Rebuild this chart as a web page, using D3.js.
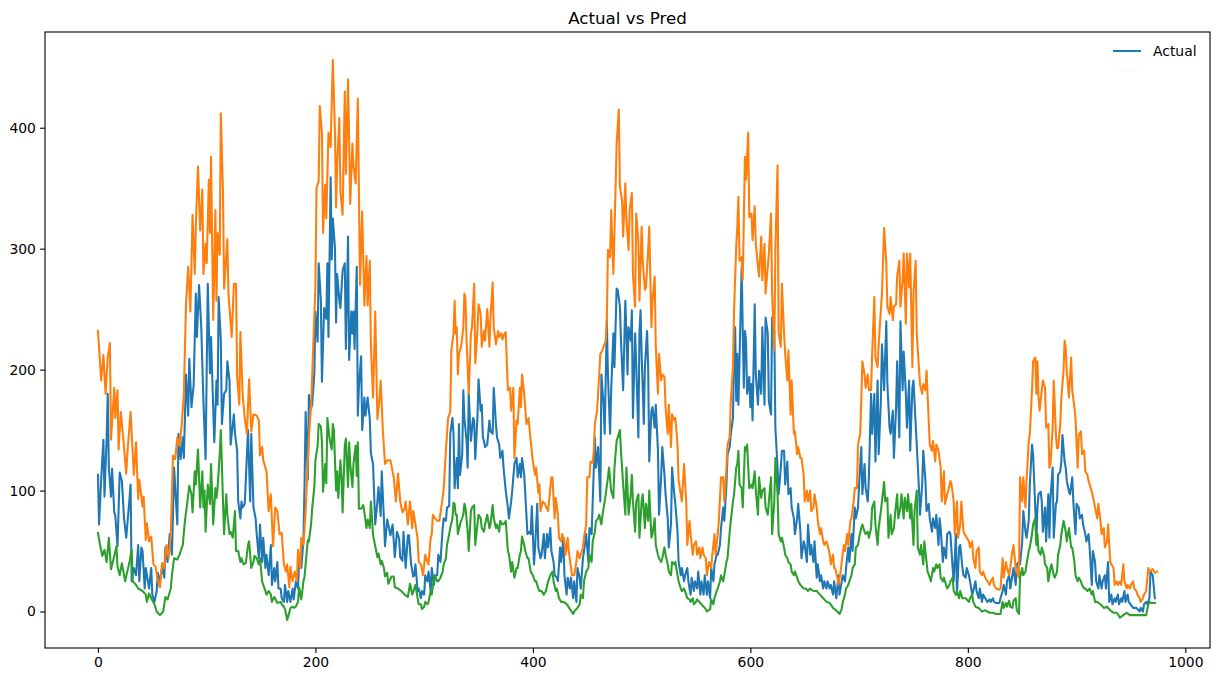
<!DOCTYPE html>
<html>
<head>
<meta charset="utf-8">
<script src="https://cdn.jsdelivr.net/npm/d3@7/dist/d3.min.js"></script>
<style>
  html, body { margin: 0; padding: 0; background: #ffffff; }
  svg { display: block; font-family: "DejaVu Sans", sans-serif; }
</style>
</head>
<body>
<svg id="chart" width="1218" height="682"></svg>
<script>
// ---------- DATA ----------
const chartTitle = "Actual vs Pred";
const xTicks = [0, 200, 400, 600, 800, 1000];
const yTicks = [0, 100, 200, 300, 400];
const seriesNames = ["Actual", "Pred (upper)", "Pred (lower)"];

// Actual (blue) : [index, value]
const actualPts = [[0,113],[1,72],[3,110],[5,142],[6,95],[8,144],[9,180],[10,119],[12,95],[13,118],[15,82],[16,79],[18,54],[20,115],[22,108],[24,77],[26,61],[29,93],[30,105],[31,25],[33,36],[35,30],[37,55],[38,25],[40,53],[41,50],[43,19],[44,36],[47,19],[49,36],[50,14],[52,8],[54,17],[55,32],[57,25],[59,36],[61,28],[62,53],[64,41],[66,64],[68,47],[69,80],[70,119],[73,72],[74,147],[76,126],[78,144],[79,127],[81,196],[83,162],[84,209],[86,169],[88,187],[90,263],[91,227],[93,270],[95,235],[97,174],[99,126],[101,271],[103,197],[104,227],[105,197],[107,140],[109,191],[110,171],[111,260],[113,224],[114,155],[116,180],[118,183],[119,207],[121,191],[122,138],[125,163],[126,147],[128,133],[129,91],[131,77],[132,91],[133,86],[135,89],[138,150],[140,91],[141,147],[143,86],[145,77],[146,64],[148,44],[149,72],[151,41],[152,61],[154,36],[155,47],[157,30],[159,55],[160,22],[162,36],[163,25],[165,41],[166,19],[168,19],[169,11],[171,8],[172,22],[174,8],[175,17],[177,8],[179,19],[180,10],[182,25],[184,19],[185,41],[187,36],[188,47],[189,61],[190,105],[191,165],[193,109],[194,179],[196,168],[197,171],[199,197],[200,248],[202,223],[203,288],[205,257],[206,190],[208,251],[210,242],[211,288],[212,227],[214,359],[215,291],[216,325],[218,300],[219,239],[220,279],[222,257],[223,251],[225,282],[227,288],[228,217],[230,310],[231,208],[233,248],[234,230],[235,248],[236,217],[238,285],[239,162],[240,186],[242,211],[243,150],[245,177],[246,162],[248,177],[250,159],[251,131],[253,122],[255,72],[257,91],[258,103],[260,79],[261,116],[263,76],[264,54],[266,76],[267,72],[269,63],[271,72],[273,45],[275,66],[277,60],[278,45],[280,42],[281,66],[283,36],[285,63],[286,63],[288,39],[290,29],[291,30],[292,39],[294,17],[295,19],[297,11],[298,17],[300,14],[301,30],[303,25],[304,33],[306,17],[307,36],[309,22],[310,30],[312,30],[313,47],[315,41],[317,69],[318,77],[320,75],[321,86],[323,87],[324,147],[326,160],[327,147],[328,102],[330,127],[331,102],[332,155],[333,113],[335,130],[336,183],[337,160],[339,141],[340,119],[341,181],[342,160],[343,141],[345,160],[346,158],[347,126],[349,160],[350,192],[352,166],[353,171],[354,144],[355,141],[356,136],[358,138],[360,158],[361,149],[363,147],[364,185],[366,155],[367,144],[369,138],[370,127],[372,133],[373,119],[375,100],[377,86],[378,77],[380,91],[381,100],[383,122],[385,127],[386,111],[388,122],[389,111],[390,127],[392,113],[393,97],[395,64],[397,66],[398,64],[399,87],[401,39],[402,53],[404,89],[405,53],[407,44],[408,47],[410,64],[411,44],[413,64],[414,53],[416,69],[417,50],[419,41],[420,30],[422,28],[423,25],[425,53],[426,41],[428,61],[429,30],[431,14],[432,28],[434,19],[435,28],[437,11],[438,25],[440,8],[441,36],[443,28],[444,19],[446,44],[447,50],[449,64],[451,41],[452,69],[454,64],[455,91],[457,144],[458,119],[460,136],[462,91],[463,196],[465,171],[466,147],[468,241],[469,196],[471,147],[472,183],[474,230],[475,202],[477,267],[478,266],[480,252],[481,224],[483,183],[485,257],[486,230],[487,196],[488,235],[490,224],[491,249],[492,160],[494,230],[495,205],[497,144],[498,230],[499,249],[500,213],[502,155],[503,202],[505,232],[506,202],[507,124],[509,166],[510,169],[512,152],[513,171],[515,133],[516,80],[518,113],[519,136],[521,113],[522,97],[524,77],[525,53],[527,72],[528,119],[530,97],[531,89],[533,66],[534,41],[536,30],[537,36],[539,25],[540,30],[542,36],[543,25],[545,14],[546,28],[548,17],[549,25],[551,19],[552,33],[554,14],[555,25],[557,14],[558,30],[560,14],[561,25],[563,11],[564,36],[566,25],[567,39],[569,47],[570,47],[572,55],[573,69],[575,86],[576,75],[578,105],[579,130],[581,136],[582,147],[584,160],[585,213],[586,235],[587,174],[588,213],[589,171],[590,207],[592,285],[593,232],[594,185],[595,232],[596,224],[597,180],[599,194],[600,169],[601,188],[602,158],[604,254],[605,196],[607,171],[608,199],[610,180],[611,235],[613,171],[614,243],[616,230],[617,174],[619,163],[620,243],[622,232],[623,152],[625,119],[626,97],[628,119],[629,133],[631,133],[632,105],[634,124],[635,97],[637,102],[638,86],[640,77],[641,64],[643,77],[644,89],[646,66],[647,44],[649,58],[650,55],[652,41],[653,72],[655,47],[656,55],[658,41],[659,58],[661,28],[662,39],[664,25],[665,30],[667,19],[668,25],[670,19],[671,25],[673,19],[674,22],[676,14],[677,25],[679,11],[681,30],[682,14],[684,25],[685,30],[687,25],[688,36],[690,53],[691,41],[693,64],[694,50],[696,86],[697,77],[699,86],[700,105],[702,136],[703,97],[705,122],[706,102],[708,91],[709,111],[711,180],[712,147],[714,180],[715,124],[717,191],[718,130],[720,174],[721,221],[723,183],[725,240],[726,188],[728,152],[729,147],[731,166],[732,127],[734,169],[735,207],[737,144],[738,240],[740,183],[741,215],[743,180],[744,152],[746,191],[747,133],[749,185],[750,191],[752,155],[753,138],[755,102],[756,80],[758,105],[759,133],[761,108],[762,83],[764,89],[765,77],[767,66],[768,77],[770,69],[771,80],[773,55],[774,77],[775,69],[777,41],[778,53],[780,44],[781,64],[783,66],[784,64],[786,36],[787,25],[789,64],[790,14],[792,53],[793,55],[795,36],[796,30],[798,28],[799,36],[801,30],[802,25],[804,14],[805,17],[807,25],[808,17],[810,11],[811,19],[813,8],[814,14],[816,11],[818,8],[820,10],[821,8],[823,11],[824,8],[826,7],[829,7],[830,11],[832,17],[833,22],[835,14],[836,25],[838,30],[839,19],[841,30],[842,36],[844,22],[845,39],[847,41],[848,39],[850,58],[851,83],[853,66],[854,61],[856,75],[857,105],[859,138],[860,130],[862,86],[863,58],[864,86],[865,97],[867,99],[868,91],[869,66],[871,86],[872,58],[874,97],[875,61],[876,94],[878,119],[879,61],[881,89],[882,91],[883,113],[885,116],[886,124],[887,146],[889,124],[890,119],[891,108],[893,99],[894,97],[896,111],[897,91],[899,64],[900,89],[902,86],[903,77],[905,80],[906,72],[908,64],[909,58],[911,64],[912,53],[914,22],[915,50],[917,41],[918,25],[920,19],[921,30],[923,19],[924,25],[926,30],[927,19],[929,41],[930,8],[932,14],[933,6],[935,11],[936,8],[938,14],[939,6],[941,11],[942,8],[944,17],[945,8],[947,14],[948,8],[952,3],[955,3],[958,0],[959,3],[961,0],[962,6],[964,8],[965,6],[967,11],[968,33],[970,30],[972,11]];

// Upper prediction (orange)
const predUpperPts = [[0,232],[3,191],[5,212],[7,180],[9,210],[11,222],[12,142],[15,185],[16,160],[18,183],[19,134],[21,165],[24,136],[26,114],[27,130],[30,165],[33,113],[35,140],[37,93],[38,109],[41,87],[42,95],[44,59],[45,73],[47,58],[49,62],[51,39],[53,37],[55,26],[57,20],[59,40],[61,36],[63,55],[65,44],[67,64],[69,129],[71,126],[73,144],[75,137],[77,154],[79,180],[81,255],[83,285],[85,248],[87,328],[89,279],[90,318],[92,368],[94,315],[96,349],[97,279],[99,304],[100,288],[102,357],[103,313],[104,376],[106,241],[108,332],[109,257],[110,313],[112,295],[113,412],[115,346],[116,267],[119,308],[120,263],[123,227],[125,271],[127,271],[128,194],[130,171],[131,231],[133,180],[135,160],[137,147],[139,192],[141,149],[143,163],[146,162],[148,158],[149,129],[151,136],[152,125],[155,116],[157,83],[159,97],[161,54],[163,86],[165,83],[167,64],[169,65],[171,39],[173,33],[174,39],[176,20],[177,37],[179,25],[181,33],[183,25],[184,51],[186,36],[187,61],[189,55],[191,83],[194,144],[196,170],[198,220],[200,270],[201,350],[203,356],[204,418],[206,396],[207,313],[209,353],[210,325],[212,396],[214,384],[216,456],[218,396],[219,334],[220,371],[222,408],[223,347],[225,328],[227,430],[228,362],[230,440],[232,337],[234,387],[235,368],[237,354],[239,424],[241,270],[243,331],[245,253],[247,294],[248,253],[250,290],[251,220],[253,177],[255,248],[257,159],[259,177],[260,191],[262,150],[264,122],[266,125],[269,125],[272,111],[274,91],[276,114],[278,91],[280,82],[282,85],[283,91],[285,72],[287,91],[289,69],[290,83],[292,72],[294,60],[295,41],[297,39],[299,30],[301,47],[303,41],[304,39],[306,61],[307,64],[308,80],[310,77],[312,75],[314,75],[317,94],[318,102],[320,133],[322,160],[324,165],[325,216],[327,230],[328,257],[329,230],[330,235],[331,196],[332,213],[334,219],[336,235],[337,263],[338,259],[339,224],[341,180],[343,230],[344,235],[346,271],[347,205],[349,232],[350,254],[352,246],[353,219],[355,232],[356,224],[358,250],[360,219],[361,243],[363,272],[364,235],[366,221],[368,232],[369,227],[371,230],[372,225],[374,230],[375,231],[377,183],[379,185],[380,166],[382,185],[383,127],[385,158],[386,155],[388,185],[389,169],[390,196],[392,180],[394,155],[396,160],[398,141],[400,124],[402,113],[403,119],[405,98],[406,105],[407,83],[409,91],[411,89],[412,87],[414,83],[416,102],[417,111],[418,111],[420,77],[421,94],[423,80],[424,61],[426,58],[427,64],[429,58],[430,47],[432,61],[433,50],[435,36],[436,30],[438,30],[440,41],[441,50],[443,44],[444,47],[446,53],[447,61],[449,72],[450,111],[452,111],[453,124],[455,123],[456,133],[457,155],[459,166],[461,196],[462,213],[464,216],[465,219],[467,224],[468,241],[469,299],[471,293],[472,332],[474,279],[475,313],[477,387],[479,415],[480,351],[482,340],[483,310],[485,354],[486,324],[488,299],[489,332],[491,346],[492,279],[494,252],[495,329],[497,307],[498,257],[500,318],[501,290],[503,266],[504,268],[506,299],[507,318],[509,235],[510,257],[512,277],[513,219],[515,180],[516,213],[518,191],[519,196],[521,194],[522,169],[524,147],[525,171],[527,136],[528,163],[530,158],[531,160],[533,138],[534,108],[536,97],[537,91],[539,122],[541,91],[542,55],[544,75],[545,64],[547,47],[548,55],[550,58],[551,47],[553,53],[554,44],[556,53],[557,47],[559,44],[560,30],[562,41],[564,36],[565,47],[567,64],[568,47],[570,64],[571,75],[573,111],[575,111],[576,91],[578,119],[579,138],[581,144],[582,174],[584,202],[585,249],[587,302],[588,318],[589,343],[590,290],[592,293],[593,274],[595,376],[596,357],[598,396],[599,326],[601,329],[602,307],[604,335],[605,304],[607,285],[608,277],[610,310],[611,274],[613,304],[614,263],[616,285],[617,296],[619,329],[620,263],[622,216],[623,299],[625,369],[626,230],[628,219],[629,271],[631,230],[632,213],[634,191],[635,216],[637,163],[638,191],[640,147],[641,149],[643,130],[644,136],[646,127],[647,127],[649,113],[650,91],[652,100],[653,91],[655,100],[656,83],[658,86],[659,97],[661,86],[662,75],[664,64],[665,69],[667,58],[668,55],[670,58],[671,55],[673,47],[674,39],[676,47],[677,36],[678,36],[680,28],[681,22],[683,33],[684,41],[686,55],[687,50],[689,64],[690,55],[692,75],[693,77],[695,91],[696,102],[698,102],[699,138],[701,147],[702,174],[703,207],[705,196],[706,185],[708,196],[709,183],[711,183],[712,213],[714,260],[715,210],[717,202],[718,221],[720,249],[721,263],[723,317],[725,288],[726,252],[728,246],[729,260],[731,241],[732,252],[734,254],[735,277],[737,290],[738,252],[740,274],[741,296],[743,238],[744,296],[746,268],[747,296],[749,202],[750,263],[752,290],[753,230],[755,202],[756,188],[758,180],[759,188],[761,183],[762,199],[764,158],[765,138],[767,133],[768,141],[770,124],[771,138],[773,133],[775,119],[776,91],[778,116],[779,89],[781,97],[782,100],[784,108],[785,105],[787,91],[788,64],[790,91],[791,61],[793,72],[794,91],[796,66],[797,64],[799,61],[801,58],[802,53],[804,58],[805,44],[807,36],[808,50],[810,53],[811,33],[813,30],[814,33],[816,28],[818,25],[820,22],[821,25],[823,28],[824,22],[826,19],[829,18],[830,19],[832,44],[833,28],[835,41],[836,36],[838,30],[839,36],[841,50],[842,55],[844,36],[845,33],[847,28],[848,111],[850,91],[851,111],[853,86],[854,108],[856,141],[857,147],[859,183],[860,207],[862,210],[863,180],[864,207],[865,177],[866,166],[868,183],[869,191],[871,185],[872,152],[874,155],[875,119],[876,122],[878,152],[879,191],[881,146],[882,135],[883,135],[885,155],[886,177],[888,199],[889,224],[890,218],[891,199],[893,177],[895,210],[896,183],[898,169],[899,160],[901,119],[902,146],[904,149],[905,130],[907,133],[908,116],[910,113],[911,108],[913,102],[914,99],[916,91],[917,86],[919,77],[920,89],[922,75],[923,64],[925,69],[926,53],[928,58],[929,72],[931,41],[932,39],[934,36],[935,22],[937,25],[938,22],[940,25],[941,22],[943,39],[944,25],[946,19],[947,22],[949,19],[950,22],[952,25],[953,19],[955,17],[956,14],[958,11],[959,8],[961,11],[962,14],[964,17],[966,36],[967,33],[970,35],[972,32],[974,33]];

// Lower prediction (green)
const predLowerPts = [[0,65],[2,55],[4,46],[6,51],[8,41],[10,61],[12,35],[15,46],[17,54],[18,37],[20,30],[22,40],[25,25],[27,33],[29,41],[31,51],[32,25],[35,22],[37,19],[39,18],[41,17],[44,14],[45,8],[47,15],[49,11],[52,6],[54,0],[57,-3],[60,0],[62,12],[64,10],[67,19],[68,30],[70,44],[73,43],[75,47],[78,55],[80,75],[82,89],[84,104],[86,97],[87,82],[89,116],[90,105],[92,134],[94,86],[96,116],[97,86],[98,100],[99,66],[101,105],[103,89],[104,122],[106,72],[108,102],[109,94],[110,102],[112,130],[113,150],[115,91],[116,64],[118,97],[119,80],[121,64],[122,66],[124,61],[126,83],[127,50],[129,50],[131,41],[132,44],[133,41],[134,39],[136,40],[138,55],[139,58],[141,36],[143,41],[144,46],[146,44],[148,39],[149,44],[151,25],[152,22],[154,17],[155,14],[157,17],[159,14],[160,8],[162,12],[163,11],[165,7],[168,8],[169,6],[171,4],[172,2],[174,-7],[175,-4],[177,3],[179,4],[180,3],[182,4],[184,8],[185,20],[187,10],[189,25],[190,29],[193,59],[194,58],[196,72],[197,85],[199,103],[200,125],[202,137],[203,155],[205,153],[206,140],[207,99],[209,122],[210,106],[211,160],[213,143],[215,134],[216,155],[217,150],[219,100],[220,116],[221,94],[223,125],[224,112],[225,82],[227,137],[228,143],[230,103],[231,140],[232,122],[234,103],[235,122],[237,137],[238,112],[239,140],[240,85],[242,85],[244,88],[245,82],[247,69],[248,76],[250,69],[251,91],[253,63],[255,54],[257,45],[258,48],[260,39],[261,42],[263,36],[264,29],[266,32],[267,23],[270,29],[272,29],[273,20],[276,19],[279,17],[282,14],[285,12],[287,23],[289,14],[291,19],[292,22],[294,11],[295,6],[297,6],[298,2],[300,4],[301,8],[303,6],[304,8],[306,17],[307,14],[309,28],[310,30],[312,25],[313,25],[315,28],[317,33],[318,39],[320,44],[321,55],[323,64],[324,69],[326,77],[327,90],[328,89],[329,80],[330,80],[331,64],[333,72],[334,75],[336,80],[337,89],[338,86],[340,66],[341,50],[343,83],[344,86],[346,88],[347,55],[349,72],[350,80],[352,77],[353,69],[355,66],[356,72],[358,80],[360,69],[361,72],[363,88],[364,77],[366,69],[367,72],[369,66],[370,75],[372,72],[374,73],[375,75],[377,50],[378,47],[380,33],[381,41],[383,28],[385,36],[386,36],[388,47],[389,50],[390,62],[392,55],[393,50],[395,44],[396,44],[398,33],[400,30],[402,25],[403,25],[405,19],[406,17],[408,17],[410,14],[412,17],[414,25],[416,30],[418,33],[419,25],[421,17],[422,19],[424,11],[426,8],[428,8],[430,7],[432,5],[434,2],[437,-2],[438,0],[440,2],[441,3],[443,6],[444,14],[446,11],[447,25],[449,33],[451,36],[452,47],[454,41],[455,58],[457,66],[458,75],[460,77],[461,80],[463,72],[464,80],[466,91],[467,97],[469,111],[470,119],[472,100],[474,94],[475,119],[477,141],[478,144],[480,150],[481,133],[483,105],[485,80],[486,119],[487,102],[488,80],[490,97],[491,113],[492,91],[494,66],[495,91],[497,97],[498,61],[500,91],[501,97],[503,69],[504,89],[506,75],[507,100],[509,61],[510,64],[512,77],[513,55],[515,47],[516,44],[518,41],[519,44],[521,53],[522,47],[524,39],[525,33],[527,30],[528,41],[530,39],[531,41],[533,30],[534,25],[536,19],[537,17],[539,19],[541,14],[542,11],[544,10],[545,8],[547,11],[548,6],[550,8],[551,10],[554,7],[557,4],[559,2],[560,0],[563,2],[564,10],[566,6],[567,11],[569,17],[570,19],[572,25],[573,30],[575,25],[576,30],[578,41],[579,44],[581,66],[582,75],[584,91],[585,97],[587,119],[588,122],[589,133],[590,105],[592,102],[593,86],[595,136],[596,133],[597,138],[599,102],[601,105],[602,102],[604,116],[605,100],[607,80],[608,111],[610,94],[611,100],[613,102],[614,86],[616,80],[617,91],[619,111],[620,64],[622,91],[623,127],[625,97],[626,64],[628,58],[629,61],[631,53],[632,47],[634,44],[635,41],[637,39],[638,33],[640,30],[641,33],[643,28],[644,25],[646,22],[649,19],[651,19],[653,17],[655,19],[658,17],[661,17],[664,14],[667,11],[670,8],[673,7],[676,3],[680,0],[682,-2],[684,2],[685,8],[687,14],[688,19],[690,22],[691,25],[693,30],[694,36],[696,39],[697,53],[699,55],[700,61],[702,69],[703,72],[705,66],[706,64],[708,66],[709,61],[711,69],[712,86],[714,91],[715,72],[717,55],[718,69],[720,83],[721,91],[723,107],[724,91],[726,94],[727,61],[729,80],[730,64],[732,69],[733,80],[735,97],[736,77],[738,86],[739,97],[741,77],[742,94],[744,83],[745,97],[747,77],[748,89],[750,55],[751,83],[753,100],[754,53],[756,47],[757,55],[759,39],[760,58],[762,41],[763,33],[765,28],[766,25],[768,36],[769,33],[771,39],[772,36],[774,39],[775,28],[777,25],[778,28],[780,22],[781,19],[783,22],[784,25],[786,28],[787,17],[789,14],[790,17],[792,11],[793,17],[795,11],[798,11],[801,8],[802,11],[804,14],[805,8],[807,4],[810,3],[813,0],[816,1],[820,-1],[823,-1],[826,-2],[830,-2],[832,8],[833,3],[835,7],[836,4],[838,9],[839,4],[841,3],[842,9],[844,11],[845,1],[847,-2],[848,28],[850,36],[851,30],[853,33],[854,39],[856,50],[857,53],[859,64],[860,72],[862,77],[863,55],[864,64],[865,50],[867,47],[868,53],[870,47],[871,39],[873,36],[874,25],[876,36],[877,39],[879,30],[880,28],[882,33],[883,47],[885,55],[886,64],[888,75],[890,66],[891,58],[893,69],[895,53],[896,53],[898,41],[899,30],[901,25],[902,28],[904,25],[905,22],[907,19],[908,19],[910,17],[912,19],[914,14],[915,17],[917,8],[919,8],[922,6],[925,3],[928,4],[931,1],[934,-1],[937,-1],[940,-5],[943,-3],[946,-1],[949,-3],[952,-3],[955,-3],[958,-3],[961,-3],[964,-3],[966,6],[967,8],[969,7],[972,7]];

// ---------- DRAWING ----------
const W = 1218, H = 682;
const margin = { left: 45, right: 8, top: 32, bottom: 34 };
const plotW = W - margin.left - margin.right;
const plotH = H - margin.top - margin.bottom;

const allPts = actualPts.concat(predUpperPts, predLowerPts);
const xExt = d3.extent(allPts, d => d[0]);
const yExt = d3.extent(allPts, d => d[1]);
const xPad = (xExt[1] - xExt[0]) * 0.05;
const yPad = (yExt[1] - yExt[0]) * 0.05;

const x = d3.scaleLinear().domain([xExt[0] - xPad, xExt[1] + xPad]).range([0, plotW]);
const y = d3.scaleLinear().domain([yExt[0] - yPad, yExt[1] + yPad]).range([plotH, 0]);

const svg = d3.select("#chart");
svg.append("rect").attr("width", W).attr("height", H).attr("fill", "#ffffff");

const g = svg.append("g").attr("transform", `translate(${margin.left},${margin.top})`);

const defs = svg.append("defs");
defs.append("clipPath").attr("id", "clip")
  .append("rect").attr("width", plotW).attr("height", plotH);

const line = d3.line().x(d => x(d[0])).y(d => y(d[1]));
const colors = ["#1f77b4", "#ff7f0e", "#2ca02c"];
const series = [actualPts, predUpperPts, predLowerPts];

const lines = g.append("g").attr("clip-path", "url(#clip)");
series.forEach((s, i) => {
  lines.append("path")
    .datum(s)
    .attr("d", line)
    .attr("fill", "none")
    .attr("stroke", colors[i])
    .attr("stroke-width", 2.08)
    .attr("stroke-linejoin", "round")
    .attr("stroke-linecap", "square");
});

// axes
const fontPx = 13.9;
const xAxis = d3.axisBottom(x).tickValues(xTicks).tickSize(4.9).tickPadding(4.2).tickFormat(d3.format("d"));
const yAxis = d3.axisLeft(y).tickValues(yTicks).tickSize(4.9).tickPadding(4.2).tickFormat(d3.format("d"));

const gx = g.append("g").attr("transform", `translate(0,${plotH})`).call(xAxis);
const gy = g.append("g").call(yAxis);
[gx, gy].forEach(ax => {
  ax.select(".domain").remove();
  ax.selectAll(".tick line").attr("stroke", "#000").attr("stroke-width", 1.1);
  ax.selectAll(".tick text")
    .attr("fill", "#000")
    .style("font-family", "'DejaVu Sans', sans-serif")
    .style("font-size", fontPx + "px");
});

// frame
g.append("rect")
  .attr("x", 0).attr("y", 0).attr("width", plotW).attr("height", plotH)
  .attr("fill", "none").attr("stroke", "#000").attr("stroke-width", 1.1);

// title
svg.append("text")
  .attr("x", margin.left + plotW / 2)
  .attr("y", margin.top - 8.3)
  .attr("text-anchor", "middle")
  .style("font-family", "'DejaVu Sans', sans-serif")
  .style("font-size", "16.7px")
  .attr("fill", "#000")
  .text(chartTitle);

// legend (only the first entry is visible in the reference)
const leg = svg.append("g").attr("transform", "translate(1113,51)");
leg.append("line").attr("x1", 0).attr("x2", 28).attr("y1", 0).attr("y2", 0)
  .attr("stroke", colors[0]).attr("stroke-width", 2.08);
leg.append("text").attr("x", 40).attr("y", 5)
  .style("font-family", "'DejaVu Sans', sans-serif")
  .style("font-size", fontPx + "px")
  .attr("fill", "#000")
  .text(seriesNames[0]);
// faint remnants of the other entries
leg.append("line").attr("x1", 0).attr("x2", 28).attr("y1", 19).attr("y2", 19)
  .attr("stroke", "#f4f4f4").attr("stroke-width", 1);
</script>
</body>
</html>
